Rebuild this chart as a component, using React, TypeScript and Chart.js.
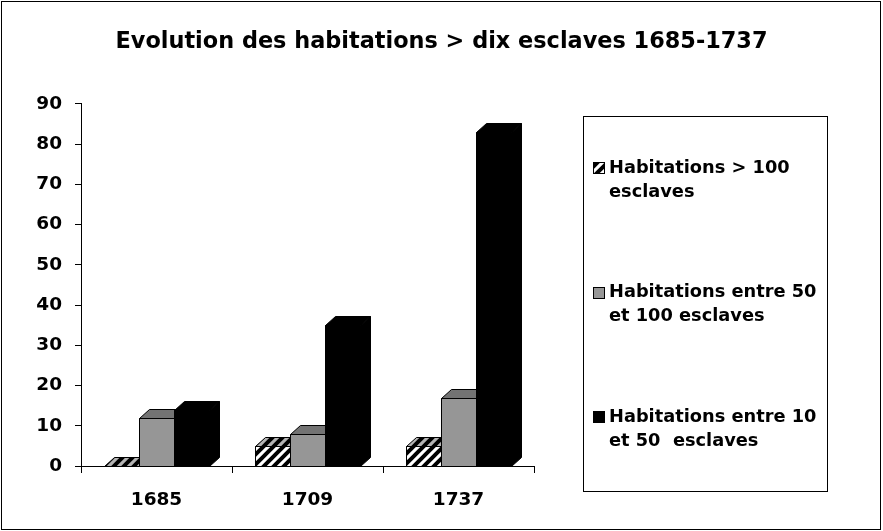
import React, { useEffect, useRef } from 'react';
import { Chart, registerables } from 'chart.js';

Chart.register(...registerables);

// ---- data ----
const categories = ['1685', '1709', '1737'];
const seriesNames = [
  'Habitations > 100\nesclaves',
  'Habitations entre 50\net 100 esclaves',
  'Habitations entre 10\net 50  esclaves',
];
const over100 = [0, 5, 5];
const from50to100 = [12, 8, 17];
const from10to50 = [14, 35, 83];
const yMin = 0;
const yMax = 90;
const yStep = 10;
const titleText = 'Evolution des habitations > dix esclaves 1685-1737';

const FONT = '"DejaVu Sans", "Liberation Sans", Arial, sans-serif';
const DX = 10;
const DY = 9;

function makeHatch(bg: string): CanvasPattern | string {
  const c = document.createElement('canvas');
  const s = 10;
  c.width = s;
  c.height = s;
  const g = c.getContext('2d');
  if (!g) return bg;
  g.fillStyle = bg;
  g.fillRect(0, 0, s, s);
  g.strokeStyle = '#000';
  g.lineWidth = 4;
  g.beginPath();
  g.moveTo(-2, s + 2);
  g.lineTo(s + 2, -2);
  g.moveTo(-2, 2);
  g.lineTo(2, -2);
  g.moveTo(s - 2, s + 2);
  g.lineTo(s + 2, s - 2);
  g.stroke();
  const p = g.createPattern(c, 'repeat');
  return p || bg;
}

export default function App() {
  const ref = useRef<HTMLCanvasElement | null>(null);

  useEffect(() => {
    if (!ref.current) return;
    const hatchFront = makeHatch('#ffffff');
    const hatchTop = makeHatch('#b4b4b4');
    const hatchSide = makeHatch('#8c8c8c');
    const faces = [
      { front: hatchFront, top: hatchTop, side: hatchSide },
      { front: '#969696', top: '#737373', side: '#5a5a5a' },
      { front: '#000000', top: '#000000', side: '#000000' },
    ];

    const bars3d = {
      id: 'bars3d',
      beforeDatasetsDraw(chart: any) {
        const ctx: CanvasRenderingContext2D = chart.ctx;
        chart.data.datasets.forEach((_ds: any, di: number) => {
          const meta = chart.getDatasetMeta(di);
          const f = faces[di];
          meta.data.forEach((el: any) => {
            const p = el.getProps(['x', 'y', 'base', 'width'], true);
            const l = Math.round(p.x - p.width / 2) + 0.5;
            const r = Math.round(p.x + p.width / 2) + 0.5;
            const t = Math.round(p.y) + 0.5;
            const b = Math.round(p.base) + 0.5;
            ctx.save();
            ctx.lineWidth = 1;
            ctx.strokeStyle = '#000';
            ctx.lineJoin = 'miter';
            // front
            ctx.fillStyle = f.front as any;
            ctx.beginPath();
            ctx.rect(l, t, r - l, b - t);
            ctx.fill();
            ctx.stroke();
            // top
            ctx.fillStyle = f.top as any;
            ctx.beginPath();
            ctx.moveTo(l, t);
            ctx.lineTo(r, t);
            ctx.lineTo(r + DX, t - DY);
            ctx.lineTo(l + DX, t - DY);
            ctx.closePath();
            ctx.fill();
            ctx.stroke();
            // side
            ctx.fillStyle = f.side as any;
            ctx.beginPath();
            ctx.moveTo(r, t);
            ctx.lineTo(r + DX, t - DY);
            ctx.lineTo(r + DX, b - DY);
            ctx.lineTo(r, b);
            ctx.closePath();
            ctx.fill();
            ctx.stroke();
            ctx.restore();
          });
        });
        return false;
      },
    };

    const frameAndLegend = {
      id: 'frameAndLegend',
      afterDraw(chart: any) {
        const ctx: CanvasRenderingContext2D = chart.ctx;
        ctx.save();
        // outer frame
        ctx.strokeStyle = '#000';
        ctx.lineWidth = 1;
        ctx.strokeRect(1.5, 1.5, 879, 528);
        // legend box
        const bx = 583.5, by = 116.5, bw = 244, bh = 375;
        ctx.strokeRect(bx, by, bw, bh);
        ctx.font = `bold 17.8px ${FONT}`;
        ctx.fillStyle = '#000';
        ctx.textBaseline = 'middle';
        ctx.textAlign = 'left';
        chart.data.datasets.forEach((ds: any, i: number) => {
          const y0 = 168 + i * 124.5;
          // marker
          ctx.fillStyle = faces[i].front as any;
          ctx.fillRect(593, Math.round(y0 - 6), 12, 12);
          ctx.strokeStyle = '#000';
          ctx.strokeRect(593.5, Math.round(y0 - 6) + 0.5, 11, 11);
          ctx.fillStyle = '#000';
          const lines = String(ds.label).split('\n');
          lines.forEach((ln: string, k: number) => {
            ctx.fillText(ln, 609, y0 + k * 24);
          });
        });
        ctx.restore();
      },
    };

    const tickFont = { family: FONT, size: 18.5, weight: 'bold' as const };

    const chart = new Chart(ref.current, {
      type: 'bar',
      data: {
        labels: categories,
        datasets: [
          { label: seriesNames[0], data: over100, backgroundColor: '#ffffff', borderColor: '#000', borderWidth: 1 },
          { label: seriesNames[1], data: from50to100, backgroundColor: '#969696', borderColor: '#000', borderWidth: 1 },
          { label: seriesNames[2], data: from10to50, backgroundColor: '#000000', borderColor: '#000', borderWidth: 1 },
        ],
      },
      options: {
        responsive: false,
        animation: false,
        devicePixelRatio: 1,
        layout: { padding: 0 },
        datasets: {
          bar: { categoryPercentage: 0.69, barPercentage: 1 },
        },
        plugins: {
          legend: { display: false },
          tooltip: { enabled: false },
          title: {
            display: true,
            text: titleText,
            color: '#000',
            font: { family: FONT, size: 22.4, weight: 'bold', lineHeight: 1.2 },
            padding: { top: 29, bottom: 48.1 },
          },
        },
        scales: {
          x: {
            grid: {
              display: true,
              drawOnChartArea: false,
              drawTicks: true,
              tickLength: 7,
              color: '#000',
              offset: true,
            },
            border: { display: true, color: '#000', width: 1 },
            ticks: { color: '#000', font: tickFont, padding: 16, maxRotation: 0 },
            afterFit: (s: any) => { s.height = 65; },
          },
          y: {
            min: yMin,
            max: yMax,
            ticks: { stepSize: yStep, color: '#000', font: tickFont, padding: 13 },
            grid: {
              display: true,
              drawOnChartArea: false,
              drawTicks: true,
              tickLength: 6,
              color: '#000',
            },
            border: { display: true, color: '#000', width: 1 },
            afterFit: (s: any) => { s.width = 81; },
          },
          spacer: {
            type: 'linear',
            position: 'right',
            display: true,
            grid: { display: false, drawTicks: false },
            border: { display: false },
            ticks: { display: false },
            afterFit: (s: any) => { s.width = 349; },
          },
        },
      } as any,
      plugins: [bars3d, frameAndLegend],
    });

    return () => chart.destroy();
  }, []);

  return (
    <div style={{ position: 'fixed', left: 0, top: 0, width: 883, height: 531, background: '#fff' }}>
      <canvas ref={ref} width={883} height={531} />
    </div>
  );
}
